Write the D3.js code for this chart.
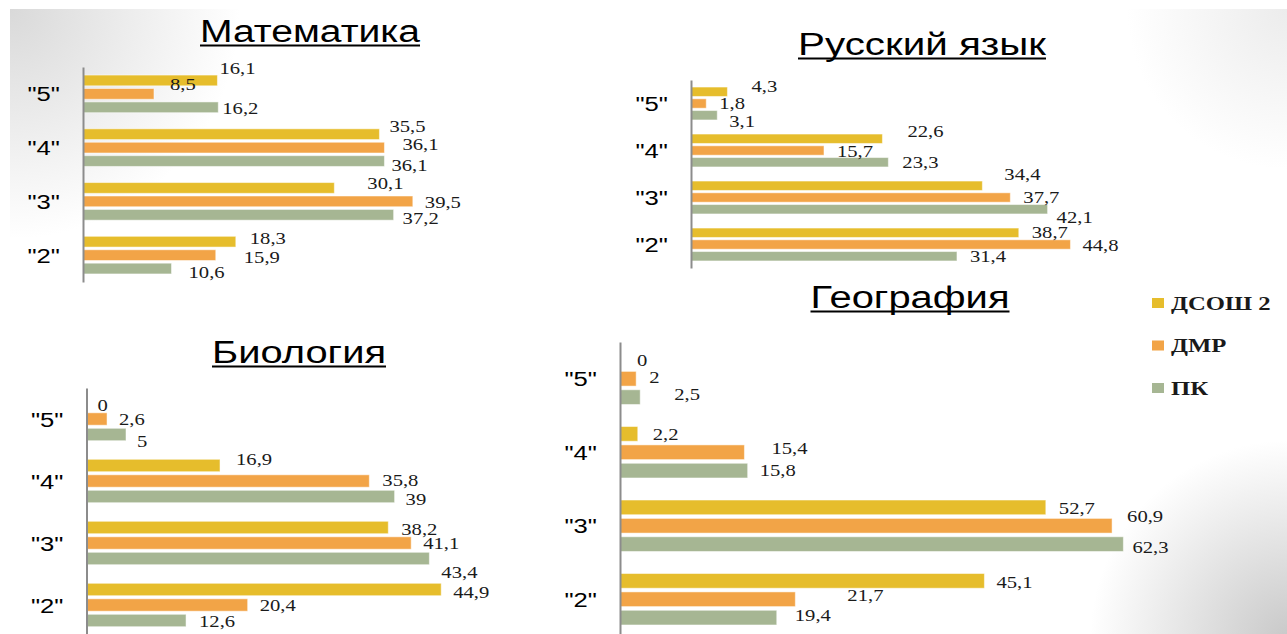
<html>
<head>
<meta charset="utf-8">
<script src="https://d3js.org/d3.v7.min.js"></script>
<style>body{margin:0;background:#fff;overflow:hidden}</style>
</head>
<body>
<svg id="slide" width="1287" height="634"></svg>
<script>
// оценки (сверху вниз) и серии
var grades = ['"5"', '"4"', '"3"', '"2"']
var series = ["ДСОШ 2", "ДМР", "ПК"]
var colors = ["#E6BD2C", "#F2A447", "#A6B693"]

// Математика
var mathDSOSH = [16.1, 35.5, 30.1, 18.3]
var mathDMR   = [8.5, 36.1, 39.5, 15.9]
var mathPK    = [16.2, 36.1, 37.2, 10.6]
// Русский язык
var rusDSOSH = [4.3, 22.6, 34.4, 38.7]
var rusDMR   = [1.8, 15.7, 37.7, 44.8]
var rusPK    = [3.1, 23.3, 42.1, 31.4]
// Биология
var bioDSOSH = [0, 16.9, 38.2, 44.9]
var bioDMR   = [2.6, 35.8, 41.1, 20.4]
var bioPK    = [5, 39, 43.4, 12.6]
// География
var geoDSOSH = [0, 2.2, 52.7, 45.1]
var geoDMR   = [2, 15.4, 60.9, 21.7]
var geoPK    = [2.5, 15.8, 62.3, 19.4]

// сдвиги подписей [dx от конца полосы, dy от нижнего края полосы], как на слайде
var mathShift = [[2,-12],[16,-9],[4,1], [10,-8],[18,-3],[7,5], [33,-4],[12,1],[9,4], [14,-3],[28,2],[17,4]]
var rusShift  = [[24,-4],[13,1],[12,7], [25,-6],[13,2],[14,1], [22,-10],[13,1],[9,9], [13,1],[12,2],[13,1]]
var bioShift  = [[11,1],[12,0],[11,6], [16,-7],[13,-1],[11,2], [13,1],[12,0],[12,13], [12,2],[12,0],[13,0]]
var geoShift  = [[17,-2],[13,-3],[34,-4], [15,-1],[27,-6],[12,-2], [13,-1],[15,-11],[9,2], [12,0],[52,-6],[18,-4]]

var svg = d3.select("#slide")
var sans = "'Liberation Sans', Arial, sans-serif"
var serif = "'Liberation Serif', 'Times New Roman', serif"
var fmt = function(v) { return String(v).replace(".", ",") }

// фон слайда: белый с серыми углами
var defs = svg.append("defs")
function corner(id, cx, cy, r, c) {
    var g = defs.append("radialGradient").attr("id", id)
        .attr("gradientUnits", "userSpaceOnUse")
        .attr("cx", cx).attr("cy", cy).attr("r", r)
    g.append("stop").attr("offset", 0).attr("stop-color", c).attr("stop-opacity", 1)
    g.append("stop").attr("offset", 1).attr("stop-color", c).attr("stop-opacity", 0)
}
corner("tl", 10, 9, 230, "#d9d9d9")
corner("br", 1290, 640, 200, "#c8c8c8")
corner("tr", 1287, 9, 160, "#ececec")
svg.append("rect").attr("width", 1287).attr("height", 634).attr("fill", "#fff")
;["tl", "br", "tr"].forEach(function(id) {
    svg.append("rect").attr("x", 10).attr("y", 9).attr("width", 1277).attr("height", 625)
        .attr("fill", "url(#" + id + ")")
})

var charts = [
    {title: "Математика", values: [mathDSOSH, mathDMR, mathPK], shift: mathShift,
     x0: 83, k: 8.35, top: 67, bottom: 282, tx: 310, ty: 42, tw: 220},
    {title: "Русский язык", values: [rusDSOSH, rusDMR, rusPK], shift: rusShift,
     x0: 691, k: 8.47, top: 80, bottom: 268, tx: 922, ty: 55, tw: 248},
    {title: "Биология", values: [bioDSOSH, bioDMR, bioPK], shift: bioShift,
     x0: 86.5, k: 7.9, top: 388, bottom: 636, tx: 299, ty: 363, tw: 174},
    {title: "География", values: [geoDSOSH, geoDMR, geoPK], shift: geoShift,
     x0: 620, k: 8.08, top: 342, bottom: 636, tx: 910, ty: 308, tw: 199}
]

charts.forEach(function(c) {
    var g = svg.append("g")

    var y = d3.scaleBand().domain(grades).range([c.top, c.bottom])
        .paddingInner(0.3).paddingOuter(0.15)
    var ys = d3.scaleBand().domain(series).range([0, y.bandwidth()]).paddingInner(0.2)
    var x = d3.scaleLinear().domain([0, 60]).range([c.x0, c.x0 + 60 * c.k])

    // заголовок с подчёркиванием
    g.append("text")
        .attr("x", c.tx).attr("y", c.ty)
        .attr("text-anchor", "middle")
        .attr("textLength", c.tw).attr("lengthAdjust", "spacingAndGlyphs")
        .style("font-family", sans).style("font-size", "31px").attr("fill", "#000")
        .text(c.title)
    g.append("line")
        .attr("x1", c.tx - c.tw / 2).attr("x2", c.tx + c.tw / 2)
        .attr("y1", c.ty + 3.5).attr("y2", c.ty + 3.5)
        .attr("stroke", "#000").attr("stroke-width", 2)

    var rows = []
    grades.forEach(function(gr, i) {
        series.forEach(function(s, j) {
            rows.push({grade: gr, s: s, j: j, v: c.values[j][i], sh: c.shift[i * 3 + j]})
        })
    })

    g.selectAll(".bar").data(rows).enter().append("rect")
        .attr("x", x(0))
        .attr("y", function(d) { return y(d.grade) + ys(d.s) })
        .attr("width", function(d) { return x(d.v) - x(0) })
        .attr("height", ys.bandwidth())
        .attr("fill", function(d) { return colors[d.j] })
        .attr("stroke", "#fff").attr("stroke-opacity", 0.5).attr("stroke-width", 1)

    g.selectAll(".val").data(rows).enter().append("text")
        .attr("transform", function(d) {
            var bottom = y(d.grade) + ys(d.s) + ys.bandwidth()
            return "translate(" + (x(d.v) + d.sh[0]) + "," + (bottom + d.sh[1]) + ") scale(1.18,1)"
        })
        .style("font-family", serif).style("font-size", "17.5px").attr("fill", "#1a1a1a")
        .text(function(d) { return fmt(d.v) })

    // ось категорий
    var ax = g.append("g")
        .attr("transform", "translate(" + c.x0 + ",0)")
        .call(d3.axisLeft(y).tickSize(0).tickPadding(19))
    ax.select(".domain").attr("stroke", "#8c8c8c").attr("stroke-width", 2)
    ax.selectAll("text")
        .attr("transform", "scale(1.22,1)")
        .attr("dy", "0.36em")
        .style("font-family", sans).style("font-size", "21px").attr("fill", "#000")
})

// легенда
var leg = svg.append("g")
series.forEach(function(s, i) {
    var yy = 303 + i * 42.5
    leg.append("rect").attr("x", 1152).attr("y", yy - 5).attr("width", 12).attr("height", 10)
        .attr("fill", colors[i])
    leg.append("text")
        .attr("transform", "translate(1171," + (yy + 6.5) + ") scale(1.3,1)")
        .style("font-family", serif).style("font-weight", "bold").style("font-size", "19px")
        .attr("fill", "#1a1a1a")
        .text(s)
})
</script>
</body>
</html>
